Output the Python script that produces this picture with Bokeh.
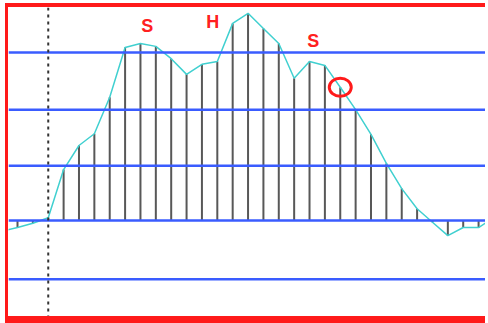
from bokeh.plotting import figure
from bokeh.models import Span, ColumnDataSource, Range1d
from bokeh.core.properties import value
from bokeh.embed import file_html
from bokeh.resources import INLINE

# --- data ---
# curve values (one extra point at each end that is clipped by the frame)
curve_x = list(range(-1, 32))
curve_y = [-0.19, -0.125, -0.05, 0.05, 0.91, 1.34, 1.55, 2.2, 3.09, 3.16, 3.11,
           2.89, 2.61, 2.79, 2.84, 3.52, 3.70, 3.43, 3.16, 2.54, 2.84,
           2.77, 2.38, 1.98, 1.54, 1.02, 0.57, 0.21, -0.03, -0.27, -0.125,
           -0.125, 0.05]
stem_x = curve_x[1:-1]
stem_y = curve_y[1:-1]
grid_levels = [-1.05, 0, 0.98, 1.98, 3.0]
dashed_x = 2
label_text = ["S", "H", "S"]
label_x = [8.45, 12.7, 19.25]
label_y = [3.48, 3.54, 3.21]
ring_x = [21]
ring_y = [2.38]

p = figure(frame_width=477, frame_height=309, output_backend="svg", toolbar_location=None,
           x_range=Range1d(-0.586, 30.45), y_range=Range1d(-1.714, 3.804),
           min_border_left=0, min_border_top=0, min_border_bottom=0, min_border_right=0)
p.styles = {"margin-left": "5px", "margin-top": "3px",
            "border-left": "3px solid #ff1a1a", "border-top": "4px solid #ff1a1a",
            "border-bottom": "7px solid #ff1a1a"}
p.border_fill_color = "white"
p.background_fill_color = "white"
p.outline_line_color = None
p.axis.visible = False
p.grid.visible = False

# stems
p.segment(x0=stem_x, y0=[0] * len(stem_x), x1=stem_x, y1=stem_y,
          line_color="#585858", line_width=2)

# curve
p.line(curve_x, curve_y, line_color="#40d0d0", line_width=1.5)

# horizontal blue lines
for g in grid_levels:
    p.add_layout(Span(location=g, dimension="width", line_color="#3a5cff",
                      line_width=2.5))

# dashed vertical line
p.add_layout(Span(location=dashed_x, dimension="height", line_color="#333333",
                  line_width=2, line_dash="3 4"))

# labels
src = ColumnDataSource(dict(x=label_x, y=label_y, t=label_text))
p.text(x="x", y="y", text="t", source=src, text_color="#ff2020",
       text_font=value("Liberation Sans"), text_font_style="bold",
       text_font_size="18px", text_align="center", text_baseline="middle")

# ring
p.ellipse(x=ring_x, y=ring_y, width=22, height=18, width_units="screen",
          height_units="screen", fill_color=None, line_color="#ff1a1a", line_width=3)

open("out.html", "w").write(file_html(p, INLINE))
